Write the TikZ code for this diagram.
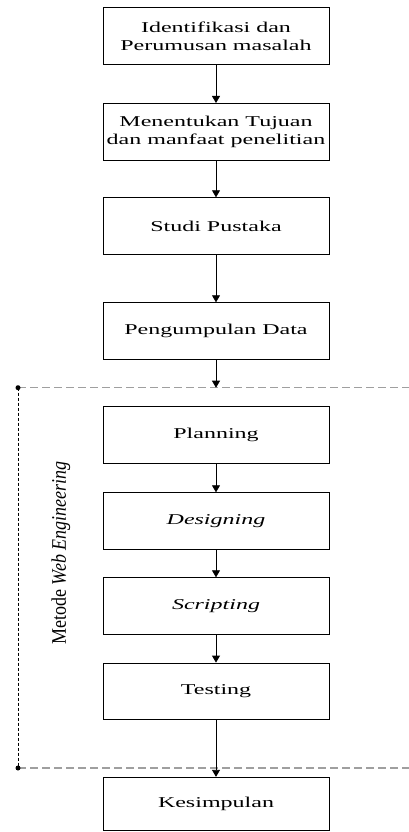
\documentclass[tikz,border=0pt]{standalone}
\usepackage{fontspec}
\usepackage{graphicx}
\setmainfont{Liberation Serif}[FakeStretch=1.6]
\newfontfamily\sidefont{Liberation Serif}
\usetikzlibrary{arrows.meta}
\tikzset{
  box/.style={draw, line width=0.8pt, minimum width=226pt, minimum height=56.6pt,
    inner sep=0pt, align=center, font=\fontsize{15}{18}\selectfont},
  arr/.style={-{Triangle[width=8pt,length=7pt]}, line width=0.8pt},
  bound/.style={draw=gray!75, line width=1.3pt, dash pattern=on 8pt off 4pt},
}
\begin{document}
\begin{tikzpicture}[x=1pt, y=-1pt]
        \useasboundingbox (0,0) rectangle (409,832);
        \node[box] (ident) at (216,35.8) {Identifikasi dan\\Perumusan masalah};
        \node[box] (tujuan) at (216,131.7) {Menentukan Tujuan\\dan manfaat penelitian};
        \node[box] (studi) at (216,226) {Studi Pustaka};
        \node[box] (data) at (216,331) {Pengumpulan Data};
        \node[box] (plan) at (216,435) {Planning};
        \node[box] (design) at (216,521) {\textit{Designing}};
        \node[box] (script) at (216,606) {\textit{Scripting}};
        \node[box] (test) at (216,691.3) {Testing};
        \node[box, minimum height=53.5pt] (simpul) at (216,804) {Kesimpulan};

        % batas metode
        \coordinate (tl) at (18,387.7);
        \coordinate (tr) at (409,387.7);
        \coordinate (bl) at (18,768);
        \coordinate (br) at (409,768);
        \coordinate (in) at (216,387.7);
        \draw[bound] (tl) -- (tr);
        \draw[bound] (bl) -- (br);
        \draw[line width=0.8pt, dash pattern=on 3pt off 2pt] (tl) -- (bl);
        \fill (tl) circle (2.5pt);
        \fill (bl) circle (2.5pt);
        \node[rotate=90, font=\sidefont\fontsize{18}{20}\selectfont] (metode) at (61,553)
            {\scalebox{1}[1.15]{Metode \textit{Web Engineering}}};

        \draw[arr] (ident) -- (tujuan);
        \draw[arr] (tujuan) -- (studi);
        \draw[arr] (studi) -- (data);
        \draw[arr] (data) -- (in);
        \draw[arr] (plan) -- (design);
        \draw[arr] (design) -- (script);
        \draw[arr] (script) -- (test);
        \draw[arr] (test) -- (simpul);
\end{tikzpicture}
\end{document}
